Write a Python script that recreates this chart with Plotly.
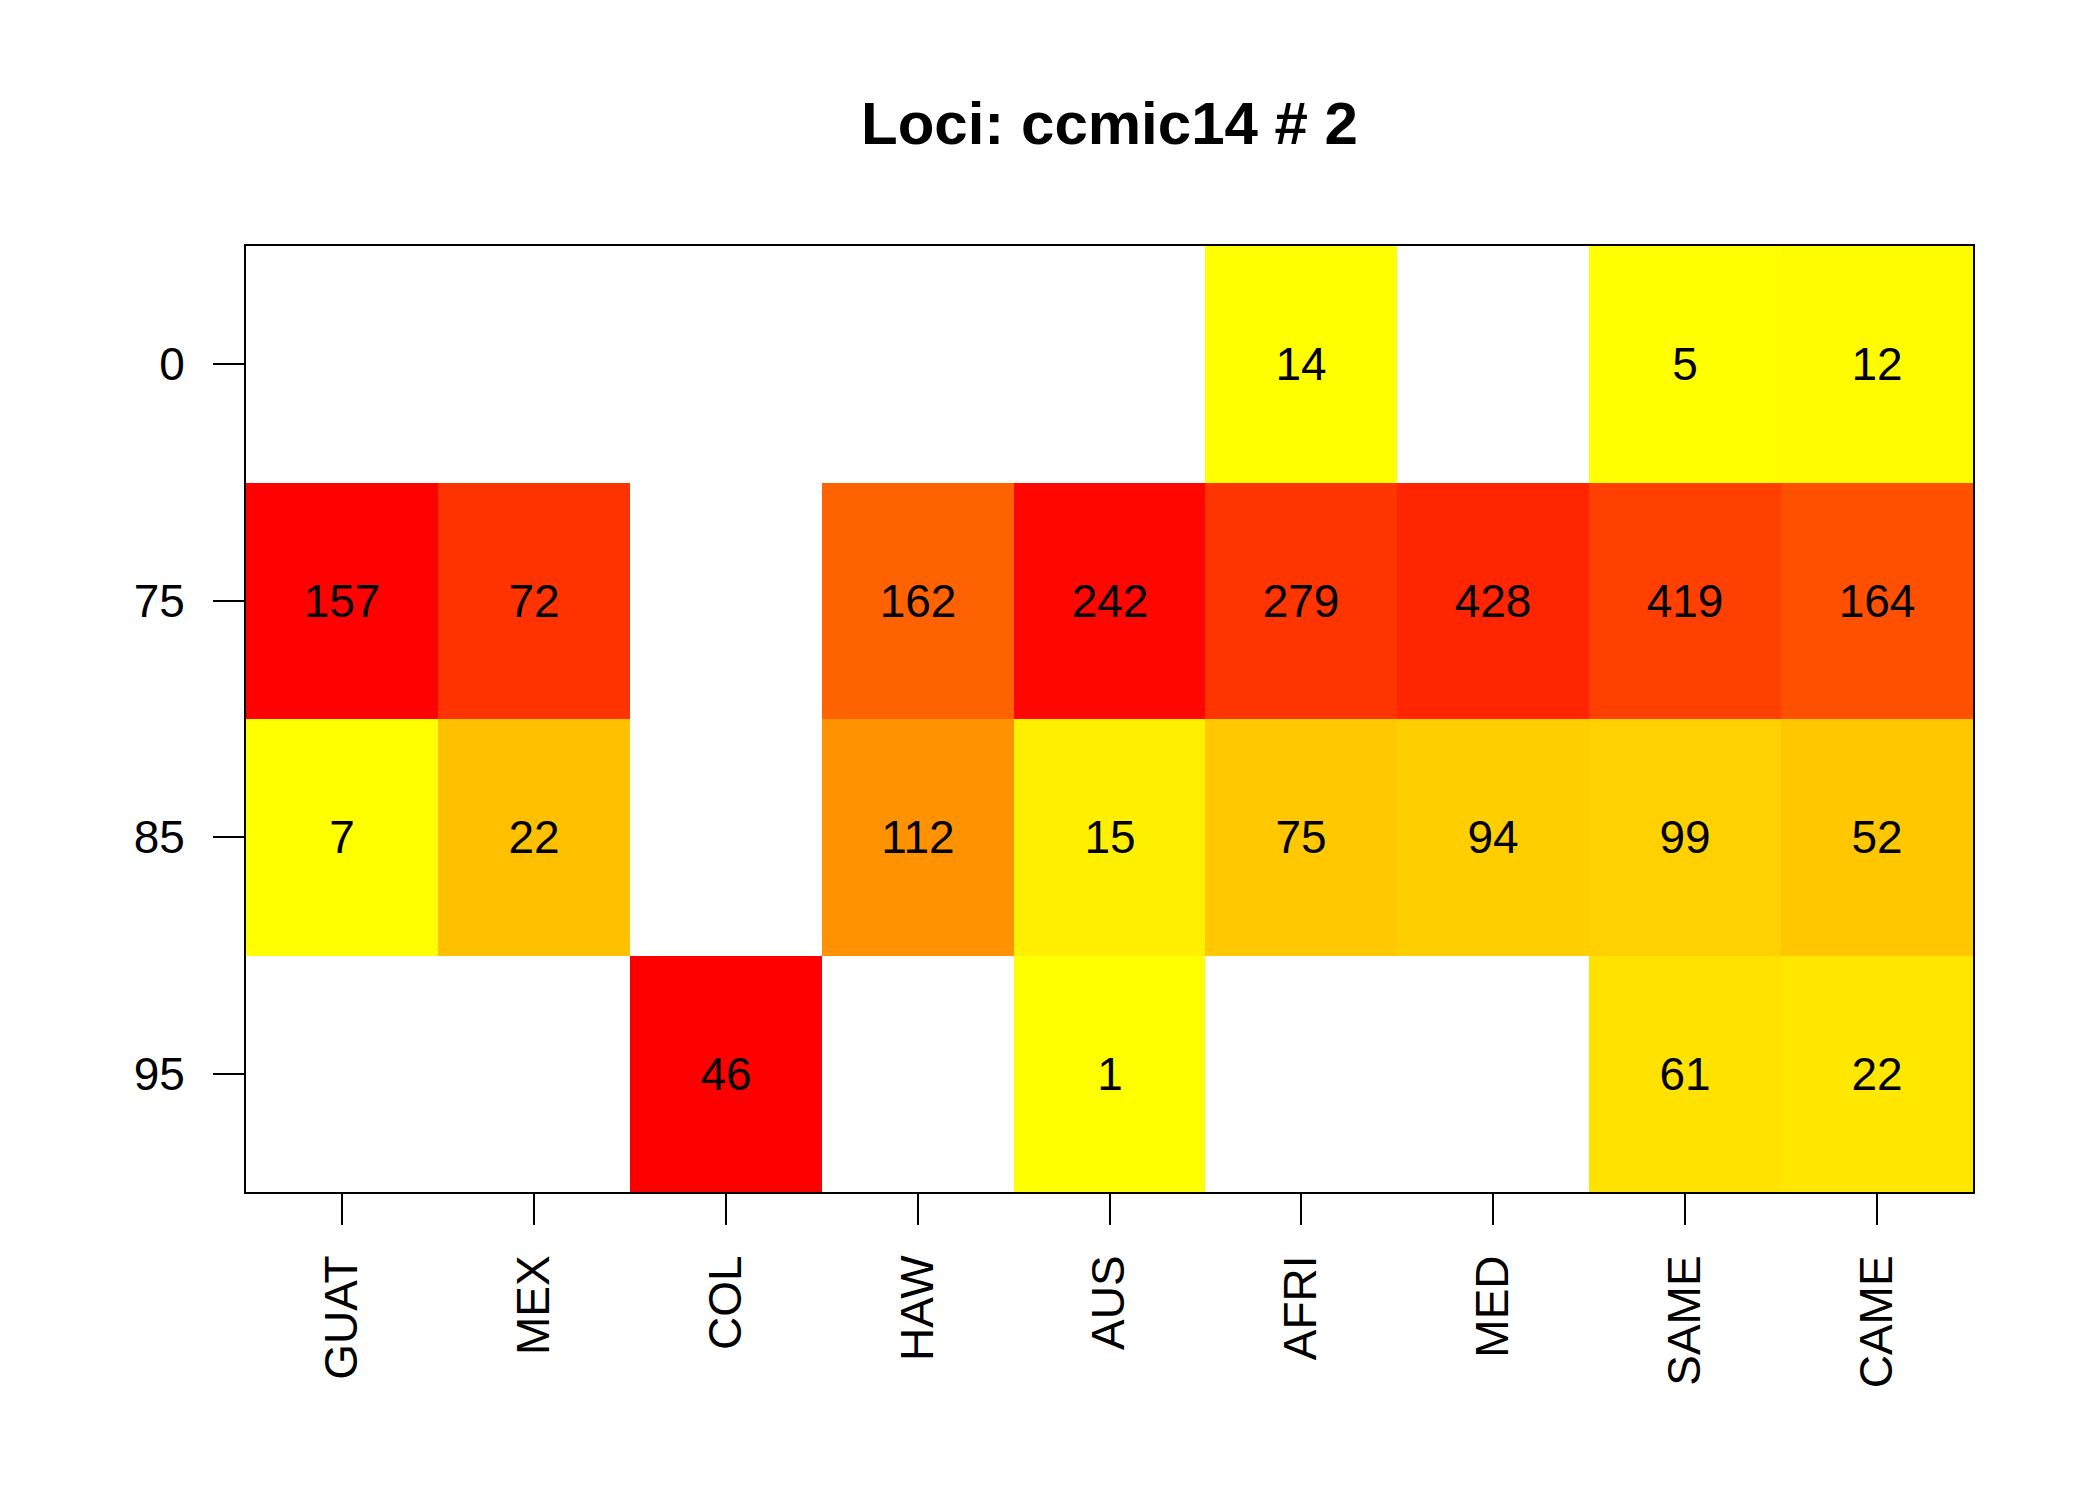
import plotly.graph_objects as go
import numpy as np

populations = ["GUAT", "MEX", "COL", "HAW", "AUS", "AFRI", "MED", "SAME", "CAME"]
alleles = ["0", "75", "85", "95"]
# counts[allele][population]; None = absent
count_0 = [None, None, None, None, None, 14, None, 5, 12]
count_75 = [157, 72, None, 162, 242, 279, 428, 419, 164]
count_85 = [7, 22, None, 112, 15, 75, 94, 99, 52]
count_95 = [None, None, 46, None, 1, None, None, 61, 22]
title_text = "Loci: ccmic14 # 2"

rows = [count_0, count_75, count_85, count_95]
counts = np.array([[np.nan if v is None else v for v in r] for r in rows], dtype=float)
totals = np.nansum(counts, axis=0)
prop = counts / totals
text = [["" if v is None else str(v) for v in r] for r in rows]

W, H = 2100, 1500
L, R, T, B = 246, 1973, 246, 1192

fig = go.Figure(go.Heatmap(
    z=prop, x=populations, y=alleles,
    text=text, texttemplate="%{text}",
    textfont=dict(family="Liberation Sans, Arial", size=46, color="black"),
    colorscale=[[0, "#FFFF00"], [0.045, "#FFFF00"], [0.06, "#FFEE00"], [0.96, "#FF0000"], [1, "#FF0000"]],
    zmin=0, zmax=1,
    showscale=False, xgap=0, ygap=0, hoverongaps=False,
))

axis_common = dict(
    showline=True, linecolor="black", linewidth=2, mirror=True,
    ticks="outside", ticklen=31, tickwidth=2, tickcolor="black",
    showgrid=False, zeroline=False,
    tickfont=dict(family="Liberation Sans, Arial", size=46, color="black"),
)
fig.update_xaxes(type="category", tickangle=-90, ticklabelstandoff=12, **axis_common)
fig.update_yaxes(type="category", autorange="reversed", ticklabelstandoff=19, **axis_common)

fig.update_layout(
    width=W, height=H,
    margin=dict(l=L, r=W - R, t=T, b=H - B),
    paper_bgcolor="white", plot_bgcolor="white",
    title=dict(text="<b>" + title_text + "</b>", x=(L + R) / 2 / W, xanchor="center",
               y=1 - 123 / H, yref="container", yanchor="middle",
               font=dict(family="Liberation Sans, Arial", size=60, color="black")),
)
fig.write_html("out.html")
